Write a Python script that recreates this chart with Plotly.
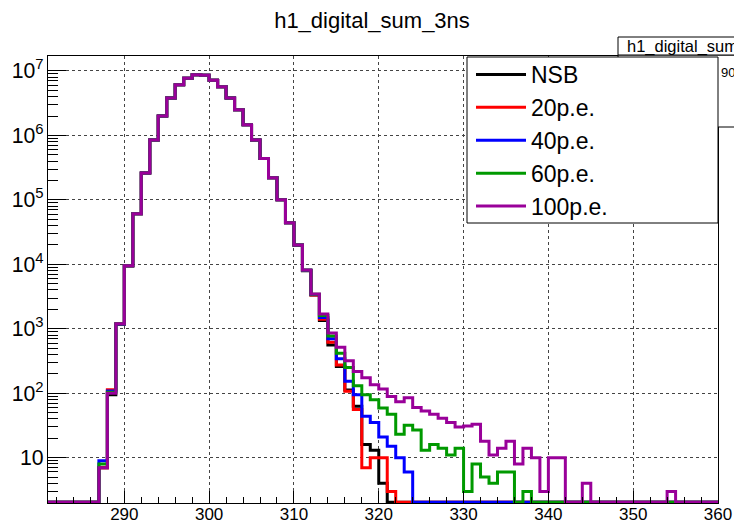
import numpy as np
import plotly.graph_objects as go

# Histogram binning: 1 ns-sum unit per bin, 281 .. 360
x_lo, x_hi = 281, 360
edges = np.arange(x_lo, x_hi + 1)

# Bin contents for bins 281 ... 359
nsb = [0, 0, 0, 0, 0, 0, 7, 95, 1180, 9400,
       60700, 260000, 850000, 2000000, 3800000, 6100000, 7700000, 8700000, 8600000, 7200000,
       5700000, 3800000, 2500000, 1460000, 850000, 440000, 220000, 100000, 44000, 19800,
       7950, 3330, 1350, 562, 260, 112, 63, 16, 13, 4,
       2, 0, 0, 0, 0, 0, 0, 0, 0, 0,
       0, 0, 0, 0, 0, 0, 0, 0, 0, 0,
       0, 0, 0, 0, 0, 0, 0, 0, 0, 0,
       0, 0, 0, 0, 0, 0, 0, 0, 0]
pe20 = [0, 0, 0, 0, 0, 0, 7, 113, 1200, 9500,
        60700, 260000, 850000, 2000000, 3800000, 6100000, 7700000, 8700000, 8600000, 7200000,
        5700000, 3800000, 2500000, 1460000, 850000, 440000, 220000, 100000, 44000, 19900,
        8000, 3350, 1410, 617, 275, 107, 56, 7, 10, 10,
        3, 0, 0, 0, 0, 0, 0, 0, 0, 0,
        0, 0, 0, 0, 0, 0, 0, 0, 0, 0,
        0, 0, 0, 0, 0, 0, 0, 0, 0, 0,
        0, 0, 0, 0, 0, 0, 0, 0, 0]
pe40 = [0, 0, 0, 0, 0, 0, 9, 108, 1190, 9500,
        60700, 260000, 850000, 2000000, 3800000, 6100000, 7700000, 8700000, 8600000, 7200000,
        5700000, 3800000, 2500000, 1460000, 850000, 440000, 220000, 100000, 44000, 20000,
        8100, 3400, 1500, 700, 343, 153, 95, 44, 35, 21,
        15, 10, 6, 0, 0, 0, 0, 0, 0, 0,
        0, 0, 0, 0, 0, 0, 0, 0, 0, 0,
        0, 0, 0, 0, 0, 0, 0, 0, 0, 0,
        0, 0, 0, 0, 0, 0, 0, 0, 0]
pe60 = [0, 0, 0, 0, 0, 0, 8, 104, 1200, 9500,
        60700, 260000, 850000, 2000000, 3800000, 6100000, 7700000, 8700000, 8600000, 7200000,
        5700000, 3800000, 2500000, 1460000, 850000, 440000, 220000, 100000, 44000, 20000,
        8150, 3430, 1610, 776, 417, 250, 131, 95, 79, 59,
        47, 23, 32, 27, 13, 16, 14, 11, 14, 3,
        8, 5, 4, 6, 6, 0, 3, 0, 0, 0,
        0, 0, 0, 0, 0, 0, 0, 0, 0, 0,
        0, 0, 0, 0, 0, 0, 0, 0, 0]
pe100 = [0, 0, 0, 0, 0, 0, 7, 100, 1200, 9500,
         60700, 260000, 850000, 2000000, 3800000, 6100000, 7700000, 8700000, 8600000, 7200000,
         5700000, 3800000, 2500000, 1460000, 850000, 440000, 220000, 100000, 44000, 20000,
         8200, 3450, 1690, 860, 515, 320, 218, 174, 135, 116,
         89, 74, 85, 60, 53, 47, 41, 35, 30, 31,
         33, 18, 11, 14, 18, 8, 14, 10, 3, 10,
         10, 0, 0, 4, 0, 0, 0, 0, 0, 0,
         0, 0, 0, 3, 0, 0, 0, 0, 0]

series_names = ["NSB", "20p.e.", "40p.e.", "60p.e.", "100p.e."]
series_values = [nsb, pe20, pe40, pe60, pe100]
series_colors = ["#000000", "#ff0000", "#0000ff", "#009900", "#990099"]

# log10 limits of the y axis
y_log_lo, y_log_hi = 0.297, 7.232
floor = 10 ** (y_log_lo + 0.012)

fig = go.Figure()
for name, vals, col in zip(series_names, series_values, series_colors):
    v = np.maximum(np.asarray(vals, dtype=float), floor)
    fig.add_trace(go.Scatter(
        x=edges, y=np.append(v, v[-1]), name=name, mode="lines",
        line=dict(color=col, width=3, shape="hv"),
    ))

L, R, T, B = 48, 16, 56, 23
W, H = 734, 526
pw, ph = W - L - R, H - T - B

def px(xp):
    return (xp - L) / pw

def py(yp):
    return (H - B - yp) / ph

axis_font = dict(family="Liberation Sans", size=17, color="black")

fig.update_layout(
    width=W, height=H,
    margin=dict(l=L, r=R, t=T, b=B, pad=0),
    paper_bgcolor="white", plot_bgcolor="white",
    font=dict(family="Liberation Sans", color="black"),
    title=dict(text="h1_digital_sum_3ns", x=372 / W, y=1 - 20 / H,
               xanchor="center", yanchor="middle", automargin=False,
               font=dict(family="Liberation Sans", size=22, color="black")),
    xaxis=dict(range=[x_lo, x_hi], dtick=10, tick0=290, automargin=False,
               showline=True, linecolor="black", linewidth=1, mirror=True,
               ticks="inside", ticklen=12, tickcolor="black",
               ticklabelstandoff=-4,
               minor=dict(ticks="inside", dtick=2, ticklen=6, tickcolor="black"),
               showgrid=True, gridcolor="#444444", griddash="dot", gridwidth=1,
               zeroline=False, tickfont=axis_font),
    yaxis=dict(type="log", range=[y_log_lo, y_log_hi], dtick=1, automargin=False,
               exponentformat="power",
               showline=True, linecolor="black", linewidth=1, mirror=True,
               ticks="inside", ticklen=18, tickcolor="black",
               minor=dict(ticks="inside", dtick="D1", ticklen=10, tickcolor="black"),
               showgrid=True, gridcolor="#444444", griddash="dot", gridwidth=1,
               zeroline=False, tickfont=axis_font),
    showlegend=True,
    legend=dict(x=px(471), y=py(53), xanchor="left", yanchor="top",
                bgcolor="rgba(0,0,0,0)", borderwidth=0,
                font=dict(family="Liberation Sans", size=23, color="black"),
                itemwidth=50, tracegroupgap=0),
)

# statistics box (partly hidden behind the legend) and its title tab
fig.add_shape(type="rect", xref="paper", yref="paper",
              x0=px(618), x1=px(745), y0=py(127), y1=py(55),
              line=dict(color="black", width=1), fillcolor="white", layer="above")
fig.add_shape(type="rect", xref="paper", yref="paper",
              x0=px(618), x1=px(745), y0=py(55), y1=py(37),
              line=dict(color="black", width=1), fillcolor="white", layer="above")
fig.add_annotation(xref="paper", yref="paper", x=px(625), y=py(46),
                   xanchor="left", yanchor="middle", showarrow=False,
                   text="h1_digital_sum_3ns",
                   font=dict(family="Liberation Sans", size=16.5, color="black"))
fig.add_annotation(xref="paper", yref="paper", x=px(719), y=py(72),
                   xanchor="left", yanchor="middle", showarrow=False,
                   text="9025341",
                   font=dict(family="Liberation Sans", size=13, color="black"))
# legend frame
fig.add_shape(type="rect", xref="paper", yref="paper",
              x0=px(467), x1=px(718), y0=py(223), y1=py(57),
              line=dict(color="black", width=1), fillcolor="white", layer="above")

fig.write_html("out.html")
